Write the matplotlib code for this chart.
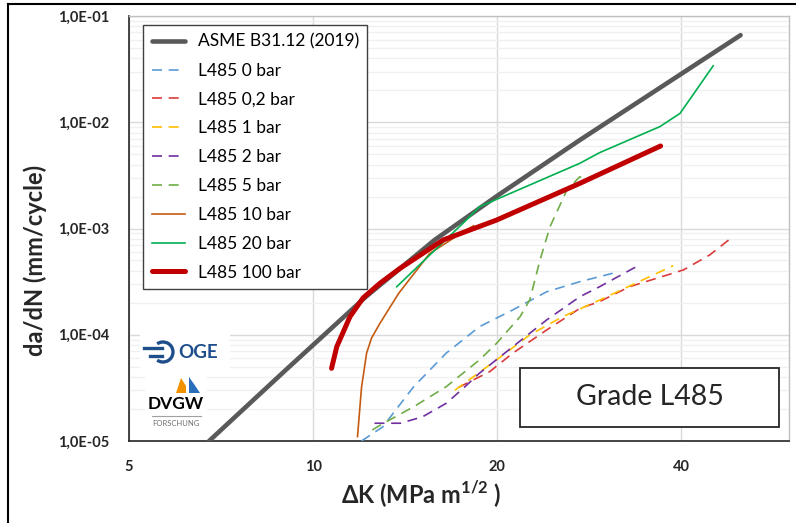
import matplotlib
matplotlib.use('Agg')
import matplotlib.pyplot as plt
from matplotlib.ticker import FixedLocator, FixedFormatter, NullFormatter, LogLocator
from matplotlib.patches import Rectangle, Arc, Polygon
from matplotlib.lines import Line2D

plt.rcParams['font.family'] = ['Lato', 'DejaVu Sans']
plt.rcParams['mathtext.fontset'] = 'custom'
plt.rcParams['mathtext.rm'] = 'Lato'
plt.rcParams['mathtext.bf'] = 'Lato:bold'

# values: dK in MPa m^1/2, da/dN in mm/cycle
asme_dk = [6.76, 9.0, 12.2, 15.8, 20.0, 27.3, 50.0]
asme_rate = [1.0e-5, 4.6e-5, 2.28e-4, 7.8e-4, 2.03e-3, 6.8e-3, 6.6e-2]

bar0_dk = [12.0, 13.0, 14.6, 16.5, 18.7, 21.2, 24.1, 27.3, 30.9]
bar0_rate = [1.0e-5, 1.36e-5, 3.24e-5, 6.7e-5, 1.19e-4, 1.71e-4, 2.54e-4, 3.16e-4, 3.79e-4]

bar02_dk = [17.3, 19.45, 21.2, 24.1, 27.3, 29.4, 32.9, 40.3, 44.5, 48.6]
bar02_rate = [3.2e-5, 4.5e-5, 6.7e-5, 1.11e-4, 1.77e-4, 2.05e-4, 2.83e-4, 4.07e-4, 5.63e-4, 8.4e-4]

bar1_dk = [17.05, 19.95, 22.6, 25.6, 29.4, 38.8]
bar1_rate = [3.0e-5, 5.8e-5, 9.95e-5, 1.48e-4, 2.12e-4, 4.47e-4]

bar2_dk = [12.6, 13.9, 15.1, 16.5, 17.6, 18.7, 21.2, 24.1, 27.3, 29.4, 34.0]
bar2_rate = [1.47e-5, 1.47e-5, 1.69e-5, 2.26e-5, 3.13e-5, 4.34e-5, 7.7e-5, 1.38e-4, 2.28e-4, 2.83e-4, 4.47e-4]

bar5_dk = [12.5, 12.9, 14.6, 16.5, 18.7, 19.95, 21.8, 22.6, 22.9, 23.5, 24.4, 26.0, 27.3, 27.7]
bar5_rate = [1.27e-5, 1.42e-5, 2.1e-5, 3.24e-5, 5.78e-5, 8.3e-5, 1.48e-4, 2.12e-4, 2.83e-4, 5.06e-4, 1.04e-3, 2.3e-3, 3.07e-3, 2.97e-3]

bar10_dk = [11.82, 12.0, 12.23, 12.46, 12.86, 13.8, 15.5, 17.8, 18.3]
bar10_rate = [1.1e-5, 3.2e-5, 6.7e-5, 9.3e-5, 1.28e-4, 2.45e-4, 5.8e-4, 9.7e-4, 1.06e-3]

bar20_dk = [13.7, 17.8, 18.7, 27.3, 29.4, 36.9, 39.8, 42.3, 45.1]
bar20_rate = [2.83e-4, 1.2e-3, 1.6e-3, 4.11e-3, 5.17e-3, 9.1e-3, 1.21e-2, 2.0e-2, 3.4e-2]

bar100_dk = [10.72, 10.93, 11.49, 12.07, 12.86, 13.86, 14.95, 16.32, 19.95, 27.3, 37.0]
bar100_rate = [4.83e-5, 7.7e-5, 1.48e-4, 2.22e-4, 3.05e-4, 4.2e-4, 5.6e-4, 7.8e-4, 1.2e-3, 2.66e-3, 5.98e-3]

x_ticks = [5, 10, 20, 40]
y_ticks = [1e-5, 1e-4, 1e-3, 1e-2, 1e-1]
y_tick_labels = ['1,0E-05', '1,0E-04', '1,0E-03', '1,0E-02', '1,0E-01']

W, H = 796, 523
fig = plt.figure(figsize=(W / 100, H / 100), dpi=100)


def fx(px):
    return px / W


def fy(py):
    return 1 - py / H


ax = fig.add_axes([fx(129), fy(441), 660 / W, 425 / H])
ax.set_xscale('log')
ax.set_yscale('log')
ax.set_xlim(5, 60)
ax.set_ylim(1e-5, 1e-1)

dash = (6, 4)
ax.plot(asme_dk, asme_rate, color='#595959', lw=3.3, solid_capstyle='round',
        label='ASME B31.12 (2019)', zorder=3)
ax.plot(bar0_dk, bar0_rate, color='#5B9BD5', lw=1.2, dashes=dash, label='L485 0 bar', zorder=3)
ax.plot(bar02_dk, bar02_rate, color='#DC3B3B', lw=1.2, dashes=dash, label='L485 0,2 bar', zorder=3)
ax.plot(bar1_dk, bar1_rate, color='#FFC000', lw=1.2, dashes=dash, label='L485 1 bar', zorder=3)
ax.plot(bar2_dk, bar2_rate, color='#7030A0', lw=1.2, dashes=dash, label='L485 2 bar', zorder=3)
ax.plot(bar5_dk, bar5_rate, color='#70AD47', lw=1.2, dashes=dash, label='L485 5 bar', zorder=3)
ax.plot(bar10_dk, bar10_rate, color='#C55A11', lw=1.2, label='L485 10 bar', zorder=3)
ax.plot(bar20_dk, bar20_rate, color='#00B050', lw=1.2, label='L485 20 bar', zorder=3)
ax.plot(bar100_dk, bar100_rate, color='#C00000', lw=3.6, solid_capstyle='round',
        label='L485 100 bar', zorder=3)

# ticks and grid
ax.xaxis.set_major_locator(FixedLocator(x_ticks))
ax.xaxis.set_major_formatter(FixedFormatter([str(t) for t in x_ticks]))
ax.xaxis.set_minor_locator(FixedLocator([]))
ax.yaxis.set_major_locator(FixedLocator(y_ticks))
ax.yaxis.set_major_formatter(FixedFormatter(y_tick_labels))
ax.yaxis.set_minor_locator(LogLocator(base=10, subs=range(2, 10)))
ax.yaxis.set_minor_formatter(NullFormatter())
ax.tick_params(which='both', length=0)
ax.tick_params(axis='y', pad=14, labelsize=10.5)
ax.tick_params(axis='x', pad=14, labelsize=10.5)
for lab in ax.get_xticklabels() + ax.get_yticklabels():
    lab.set_fontweight('bold')
    lab.set_color('#262626')
ax.grid(which='major', color='#D9D9D9', lw=1.0)
ax.grid(which='minor', axis='y', color='#F0F0F0', lw=1.0)
ax.set_axisbelow(True)
for s in ['top', 'right']:
    ax.spines[s].set_color('#BFBFBF')
    ax.spines[s].set_linewidth(1.0)
for s in ['left', 'bottom']:
    ax.spines[s].set_color('#262626')
    ax.spines[s].set_linewidth(1.2)

leg = ax.legend(loc='upper left', bbox_to_anchor=(0.021, 0.979), borderaxespad=0,
                fontsize=12.5, labelspacing=0.74, handlelength=1.9, handletextpad=0.75,
                borderpad=0.5, fancybox=False, framealpha=1)
leg.get_frame().set_edgecolor('#404040')
leg.get_frame().set_linewidth(1.0)

# grade box
ax.add_patch(Rectangle((0.592, 0.033), 0.393, 0.139, transform=ax.transAxes,
                       fc='white', ec='#262626', lw=1.3, zorder=4))
ax.text(0.789, 0.1035, 'Grade L485', transform=ax.transAxes, ha='center', va='center',
        fontsize=20.5, color='#262626', zorder=5)

# axis titles
fig.text(fx(35), fy(260), 'da/dN (mm/cycle)', rotation=90, ha='center', va='center',
         fontsize=17, fontweight='bold', color='#262626')
fig.text(fx(421), fy(494), r'ΔK (MPa m$^{\mathbf{1/2}}$ )', ha='center', va='center',
         fontsize=17, fontweight='bold', color='#262626')

# logos (approximate)
fig.patches.append(Rectangle((fx(140), fy(372)), 90 / W, 40 / H, transform=fig.transFigure,
                             fc='white', ec='none', zorder=2))
fig.patches.append(Rectangle((fx(145), fy(432)), 62 / W, 58 / H, transform=fig.transFigure,
                             fc='white', ec='none', zorder=2))
ogeblue = '#1F4E8C'
fig.text(fx(178), fy(352), 'OGE', ha='left', va='center', fontsize=13.5, fontweight='bold',
         color=ogeblue, zorder=3)
fig.patches.append(Arc((fx(163), fy(352)), 20 / W, 20 / H, theta1=-115, theta2=115,
                       transform=fig.transFigure, color=ogeblue, lw=2.4, zorder=3))
fig.lines.append(Line2D([fx(144), fx(162)], [fy(348), fy(348)], transform=fig.transFigure,
                        color=ogeblue, lw=2.4, zorder=3))
fig.lines.append(Line2D([fx(150), fx(162)], [fy(356), fy(356)], transform=fig.transFigure,
                        color=ogeblue, lw=2.4, zorder=3))
fig.patches.append(Polygon([(fx(176), fy(393)), (fx(186), fy(393)), (fx(186), fy(386)),
                            (fx(181), fy(378))], closed=True, transform=fig.transFigure,
                           fc='#F39200', ec='none', zorder=3))
fig.patches.append(Polygon([(fx(189), fy(393)), (fx(200), fy(393)), (fx(194), fy(384)),
                            (fx(189), fy(377))], closed=True, transform=fig.transFigure,
                           fc='#2A6EBB', ec='none', zorder=3))
fig.text(fx(176), fy(404), 'DVGW', ha='center', va='center', fontsize=12.5, fontweight='bold',
         color='black', zorder=3)
fig.lines.append(Line2D([fx(152), fx(201)], [fy(416), fy(416)], transform=fig.transFigure,
                        color='#A0A0A0', lw=0.8, zorder=3))
fig.text(fx(176), fy(423), 'FORSCHUNG', ha='center', va='center', fontsize=5.5,
         color='#707070', zorder=3)

# outer frame line on the left
fig.lines.append(Line2D([fx(8), fx(8)], [0, fy(4)], transform=fig.transFigure,
                        color='black', lw=1.5))
fig.lines.append(Line2D([fx(8), 1], [fy(4), fy(4)], transform=fig.transFigure,
                        color='black', lw=1.5))

fig.savefig('out.png', dpi=100)
